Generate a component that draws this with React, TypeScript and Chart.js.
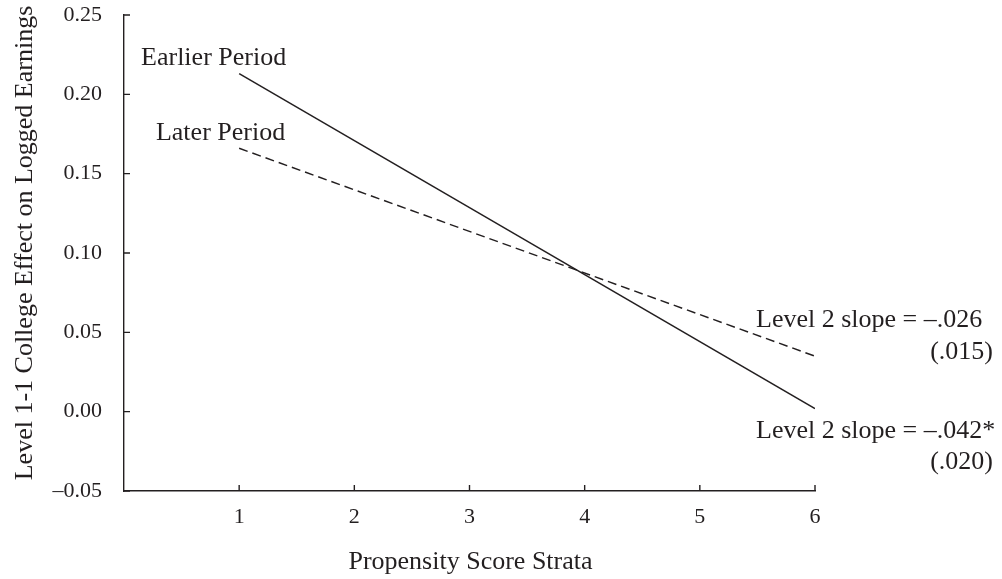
import React, { useEffect, useRef } from "react";
import { Chart, registerables } from "chart.js";

Chart.register(...registerables);

// Propensity score strata (x) and fitted college effects for each period
const strata = [1, 6];
const earlierPeriod = [0.213, 0.002];
const laterPeriod = [0.166, 0.035];

const xTicks = [1, 2, 3, 4, 5, 6];
const yMin = -0.05;
const yMax = 0.25;
const yStep = 0.05;

const xTitle = "Propensity Score Strata";
const yTitle = "Level 1-1 College Effect on Logged Earnings";
const earlierLabel = "Earlier Period";
const laterLabel = "Later Period";
const laterSlope = ["Level 2 slope = \u2013.026", "(.015)"];
const earlierSlope = ["Level 2 slope = \u2013.042*", "(.020)"];

const INK = "#231f20";
const SERIF = "'Liberation Serif', 'Times New Roman', serif";

const fmtY = (v: number) => {
  const r = Math.round(v * 100) / 100;
  return (r < 0 ? "\u2013" : "") + Math.abs(r).toFixed(2);
};

// Inward tick marks, line labels and axis titles
const decorations = {
  id: "decorations",
  afterDraw(chart: any) {
    const { ctx, chartArea, scales } = chart;
    const x = scales.x;
    const y = scales.y;
    const tick = 6;
    ctx.save();
    ctx.strokeStyle = INK;
    ctx.lineWidth = 1.4;
    ctx.beginPath();
    xTicks.forEach((v) => {
      const px = x.getPixelForValue(v);
      ctx.moveTo(px, chartArea.bottom);
      ctx.lineTo(px, chartArea.bottom - tick);
    });
    y.ticks.forEach((t: any) => {
      const py = y.getPixelForValue(t.value);
      ctx.moveTo(chartArea.left, py);
      ctx.lineTo(chartArea.left + tick, py);
    });
    ctx.stroke();

    ctx.fillStyle = INK;
    ctx.font = `26px ${SERIF}`;
    ctx.textBaseline = "alphabetic";

    const x1 = x.getPixelForValue(strata[0]);
    const x6 = x.getPixelForValue(strata[strata.length - 1]);

    ctx.textAlign = "right";
    ctx.fillText(earlierLabel, x1 + 47, y.getPixelForValue(earlierPeriod[0]) - 9);
    ctx.fillText(laterLabel, x1 + 46, y.getPixelForValue(laterPeriod[0]) - 8);

    const yLate = y.getPixelForValue(laterPeriod[laterPeriod.length - 1]);
    const yEarly = y.getPixelForValue(earlierPeriod[earlierPeriod.length - 1]);
    ctx.textAlign = "left";
    ctx.fillText(laterSlope[0], x6 - 59, yLate - 29);
    ctx.fillText(earlierSlope[0], x6 - 59, yEarly + 30);
    ctx.textAlign = "right";
    ctx.fillText(laterSlope[1], x6 + 178, yLate + 3);
    ctx.fillText(earlierSlope[1], x6 + 178, yEarly + 61);

    // Axis titles
    ctx.textAlign = "center";
    ctx.fillText(xTitle, (chartArea.left + chartArea.right) / 2 + 1, chartArea.bottom + 78);
    ctx.translate(chartArea.left - 92, (chartArea.top + chartArea.bottom) / 2 - 10);
    ctx.rotate(-Math.PI / 2);
    ctx.fillText(yTitle, 0, 0);
    ctx.restore();
  },
};

export default function App() {
  const canvasRef = useRef<HTMLCanvasElement | null>(null);

  useEffect(() => {
    const canvas = canvasRef.current;
    if (!canvas) return;
    const toPoints = (vals: number[]) => strata.map((s, i) => ({ x: s, y: vals[i] }));
    const chart = new Chart(canvas, {
      type: "line",
      data: {
        datasets: [
          {
            label: earlierLabel,
            data: toPoints(earlierPeriod),
            borderColor: INK,
            borderWidth: 1.5,
            pointRadius: 0,
            fill: false,
          },
          {
            label: laterLabel,
            data: toPoints(laterPeriod),
            borderColor: INK,
            borderWidth: 1.5,
            borderDash: [9, 5],
            pointRadius: 0,
            fill: false,
          },
        ],
      },
      options: {
        animation: false,
        responsive: false,
        devicePixelRatio: 1,
        layout: { padding: { top: 15, right: 187, left: 0, bottom: 0 } },
        plugins: {
          legend: { display: false },
          tooltip: { enabled: false },
        },
        scales: {
          x: {
            type: "linear",
            min: 0,
            max: 6,
            afterFit: (s: any) => {
              s.height = 88;
              s.paddingLeft = 0;
              s.paddingRight = 0;
            },
            afterBuildTicks: (s: any) => {
              s.ticks = xTicks.map((v) => ({ value: v }));
            },
            grid: { display: true, drawOnChartArea: false, drawTicks: false },
            border: { display: true, color: INK, width: 1.4 },
            ticks: {
              padding: 13,
              color: INK,
              font: { family: SERIF, size: 22 },
              maxRotation: 0,
              callback: (v: any) => String(v),
            },
          },
          y: {
            type: "linear",
            min: yMin,
            max: yMax,
            afterFit: (s: any) => {
              s.width = 124;
              s.paddingTop = 0;
              s.paddingBottom = 0;
            },
            grid: { display: true, drawOnChartArea: false, drawTicks: false },
            border: { display: true, color: INK, width: 1.4 },
            ticks: {
              stepSize: yStep,
              padding: 22,
              color: INK,
              font: { family: SERIF, size: 22 },
              callback: (v: any) => fmtY(Number(v)),
            },
          },
        },
      },
      plugins: [decorations],
    });
    return () => chart.destroy();
  }, []);

  return (
    <div style={{ position: "fixed", left: 0, top: 0, width: 1002, height: 579, background: "#fff" }}>
      <canvas ref={canvasRef} width={1002} height={579} style={{ display: "block" }} />
    </div>
  );
}
